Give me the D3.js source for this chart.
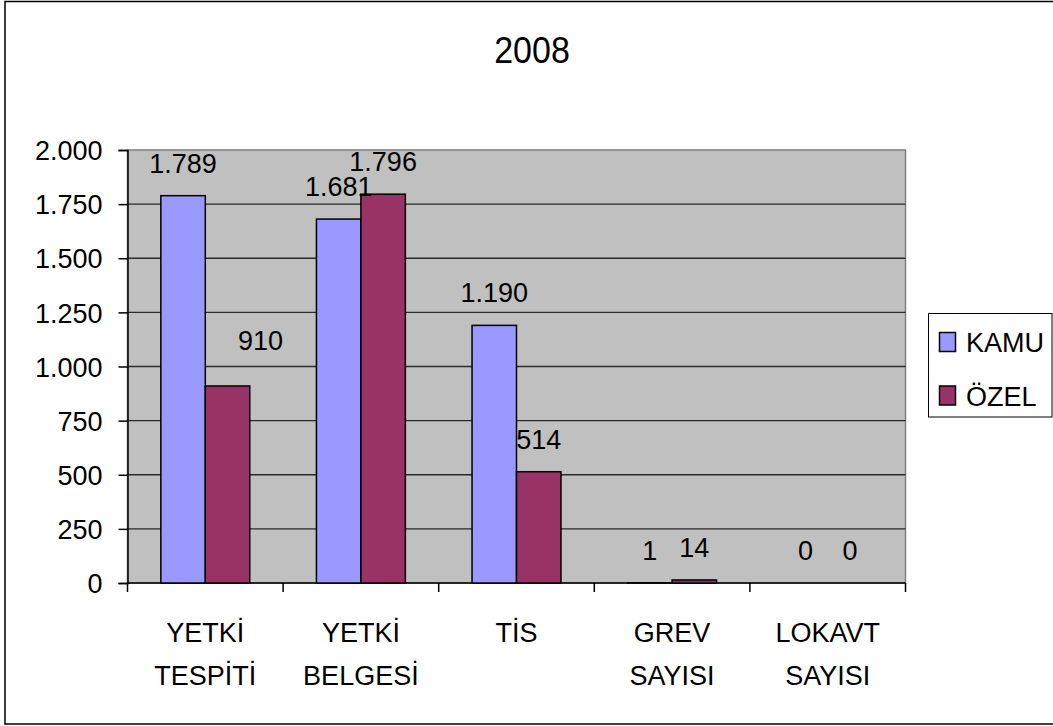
<!DOCTYPE html>
<html>
<head>
<meta charset="utf-8">
<script src="https://cdn.jsdelivr.net/npm/d3@7"></script>
<style>
  body { margin: 0; background: #fff; }
  text { font-family: "Liberation Sans", Arial, sans-serif; fill: #000; }
</style>
</head>
<body>
<div id="chart"></div>
<script>
// data
var title = "2008"
var categories = [["YETKİ", "TESPİTİ"], ["YETKİ", "BELGESİ"], ["TİS"], ["GREV", "SAYISI"], ["LOKAVT", "SAYISI"]]
var series = ["KAMU", "ÖZEL"]
var kamu = [1789, 1681, 1190, 1, 0]
var ozel = [910, 1796, 514, 14, 0]
var yTicks = [0, 250, 500, 750, 1000, 1250, 1500, 1750, 2000]
var colors = ["#9999FF", "#993366"]

function draw() {
	var width = 1053
	var height = 726
	var pLeft = 127.5, pRight = 905.5, pTop = 150, pBottom = 583
	var fs = "27px"

	var trFormat = d3.formatLocale({ decimal: ",", thousands: ".", grouping: [3], currency: ["", ""] }).format(",d")

	var svg = d3.select("#chart").append("svg")
		.attr("width", width)
		.attr("height", height)

	// outer border
	svg.append("rect")
		.attr("x", 5).attr("y", 1.5)
		.attr("width", 1060).attr("height", 722.5)
		.style("fill", "#fff").style("stroke", "#000").style("stroke-width", 1.5)

	// title, a bit taller than wide like the original
	svg.append("text")
		.attr("transform", "translate(532,63) scale(1,1.1)")
		.attr("text-anchor", "middle")
		.style("font-size", "34px")
		.text(title)

	var catKeys = categories.map(function (c, i) { return i })
	var x0 = d3.scaleBand().domain(catKeys).range([pLeft, pRight]).padding(0)
	var x1 = d3.scaleBand().domain(series).range([0, x0.bandwidth()]).paddingInner(0).paddingOuter(0.75)
	var y = d3.scaleLinear().domain([0, 2000]).range([pBottom, pTop])

	// plot area
	svg.append("rect")
		.attr("x", pLeft).attr("y", pTop)
		.attr("width", pRight - pLeft).attr("height", pBottom - pTop)
		.style("fill", "#C0C0C0").style("stroke", "#808080").style("stroke-width", 1.5)

	// gridlines
	svg.append("g").selectAll("line")
		.data(yTicks.filter(function (d) { return d > 0 && d < 2000 }))
		.enter().append("line")
		.attr("x1", pLeft).attr("x2", pRight)
		.attr("y1", function (d) { return y(d) }).attr("y2", function (d) { return y(d) })
		.style("stroke", "#2a2a2a").style("stroke-width", 1.3)

	// y axis
	var yAxis = svg.append("g")
		.attr("transform", "translate(" + pLeft + ",0)")
		.call(d3.axisLeft(y).tickValues(yTicks).tickFormat(trFormat).tickSize(9).tickPadding(16))
	yAxis.select(".domain").style("stroke", "#000").style("stroke-width", 1.5)
	yAxis.selectAll(".tick line").style("stroke", "#000").style("stroke-width", 1.5)
	yAxis.selectAll(".tick text")
		.style("font-size", fs)
		.style("font-family", "Liberation Sans, Arial, sans-serif")
		.attr("dy", "0.36em")

	// x axis line and ticks at category boundaries
	svg.append("line")
		.attr("x1", pLeft).attr("x2", pRight).attr("y1", pBottom).attr("y2", pBottom)
		.style("stroke", "#000").style("stroke-width", 1.5)
	svg.append("g").selectAll("line")
		.data(d3.range(categories.length + 1))
		.enter().append("line")
		.attr("x1", function (i) { return pLeft + i * x0.step() })
		.attr("x2", function (i) { return pLeft + i * x0.step() })
		.attr("y1", pBottom).attr("y2", pBottom + 9)
		.style("stroke", "#000").style("stroke-width", 1.5)

	// category labels
	var catLabels = svg.append("g").selectAll("text")
		.data(categories)
		.enter().append("text")
		.attr("text-anchor", "middle")
		.style("font-size", fs)
	catLabels.selectAll("tspan")
		.data(function (d, i) { return d.map(function (t) { return { t: t, i: i } }) })
		.enter().append("tspan")
		.attr("x", function (d) { return x0(d.i) + x0.bandwidth() / 2 })
		.attr("y", function (d, j) { return 642 + j * 43 })
		.text(function (d) { return d.t })

	// bars
	var rows = categories.map(function (c, i) { return [kamu[i], ozel[i]] })
	var groups = svg.append("g").selectAll("g")
		.data(rows)
		.enter().append("g")
		.attr("transform", function (d, i) { return "translate(" + x0(i) + ",0)" })

	groups.selectAll("rect")
		.data(function (d, i) { return d.map(function (v, s) { return { v: v, s: s, i: i } }) })
		.enter().filter(function (d) { return d.v > 0 }).append("rect")
		.attr("x", function (d) { return x1(series[d.s]) })
		.attr("y", function (d) { return y(d.v) })
		.attr("width", x1.bandwidth())
		.attr("height", function (d) { return pBottom - y(d.v) })
		.style("fill", function (d) { return colors[d.s] })
		.style("stroke", "#000").style("stroke-width", 1.5)

	// value labels (the 910 label sits off to the side in the original)
	var nudge = { "0-1": [33, -13] }
	groups.selectAll("text")
		.data(function (d, i) { return d.map(function (v, s) { return { v: v, s: s, i: i } }) })
		.enter().append("text")
		.attr("text-anchor", "middle")
		.style("font-size", fs)
		.attr("x", function (d) {
			var n = nudge[d.i + "-" + d.s] || [0, 0]
			return x1(series[d.s]) + x1.bandwidth() / 2 + n[0]
		})
		.attr("y", function (d) {
			var n = nudge[d.i + "-" + d.s] || [0, 0]
			return y(d.v) - 23 + n[1]
		})
		.text(function (d) { return trFormat(d.v) })

	// legend
	var legend = svg.append("g")
	legend.append("rect")
		.attr("x", 928.5).attr("y", 313.5)
		.attr("width", 123.5).attr("height", 103.5)
		.style("fill", "#fff").style("stroke", "#000").style("stroke-width", 1)
	var li = legend.selectAll("g.item")
		.data(series)
		.enter().append("g")
		.attr("class", "item")
		.attr("transform", function (d, i) { return "translate(0," + (i * 53.5) + ")" })
	li.append("rect")
		.attr("x", 939.5).attr("y", 332.5)
		.attr("width", 16).attr("height", 19)
		.style("fill", function (d, i) { return colors[i] })
		.style("stroke", "#000").style("stroke-width", 1.5)
	li.append("text")
		.attr("x", 966).attr("y", 352)
		.style("font-size", fs)
		.text(function (d) { return d })
}

draw()
</script>
</body>
</html>
